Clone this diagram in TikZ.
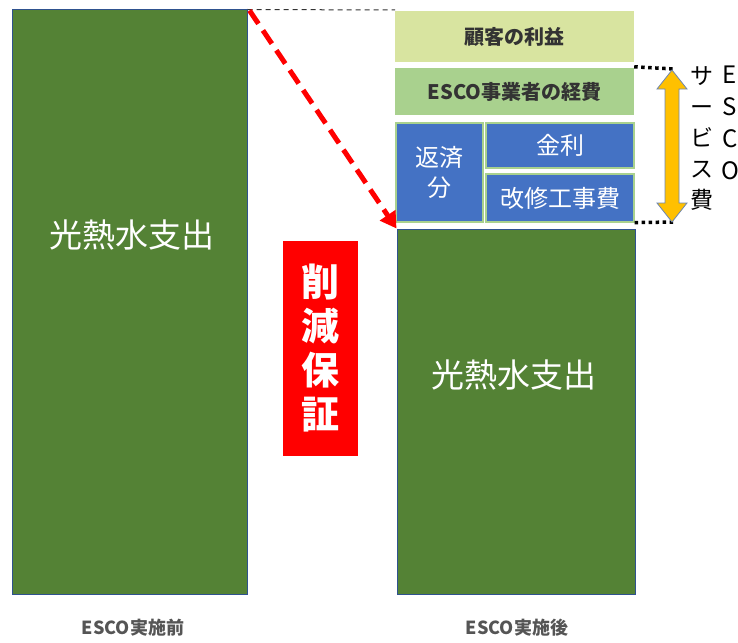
\documentclass[tikz,border=0pt]{standalone}
\usepackage{fontspec}
\setmainfont{Noto Sans CJK JP}
\usetikzlibrary{arrows.meta}
\definecolor{dgreen}{HTML}{548235}
\definecolor{bblue}{HTML}{4472C4}
\definecolor{lgreen}{HTML}{D8E4A0}
\definecolor{mgreen}{HTML}{A9D18E}
\definecolor{oline}{HTML}{2F528F}
\definecolor{gold}{HTML}{FFC000}
\definecolor{lbl}{HTML}{555555}
\tikzset{
  bigbar/.style={draw=oline, line width=1pt, fill=dgreen, inner sep=0pt},
  bluebox/.style={draw=mgreen, line width=1.2pt, fill=bblue, inner sep=0pt, text=white, font=\fontsize{24}{30}\selectfont, align=center},
  topbox/.style={fill=#1, inner sep=0pt, text=black!80, font=\bfseries\fontsize{20}{24}\selectfont},
  whitetxt/.style={text=white, font=\fontsize{33}{38}\selectfont},
  vtxt/.style={font=\fontsize{23}{31}\selectfont, align=center, inner sep=0pt},
  bottomlbl/.style={text=lbl, font=\bfseries\fontsize{18}{20}\selectfont}
}
\begin{document}
\begin{tikzpicture}[x=1pt,y=-1pt]
\useasboundingbox (0,0) rectangle (738,642);
% left bar
\node[bigbar, minimum width=235pt, minimum height=584pt] (before) at (129.5,302) {};
\node[whitetxt] (beforetxt) at (132,235) {光熱水支出};
% right bar
\node[bigbar, minimum width=238pt, minimum height=365pt] (after) at (516,411.5) {};
\node[whitetxt] (aftertxt) at (514,375) {光熱水支出};
% top boxes
\node[topbox=lgreen, minimum width=239pt, minimum height=51pt] (profit) at (514.5,36.5) {顧客の利益};
\node[topbox=mgreen, minimum width=239pt, minimum height=47pt] (cost) at (514.5,91.5) {ESCO事業者の経費};
% blue boxes
\node[bluebox, minimum width=87pt, minimum height=99pt] (repay) at (439.5,172.5) {返済\\分};
\node[bluebox, minimum width=148pt, minimum height=45pt] (interest) at (560,145.5) {金利};
\node[bluebox, minimum width=148pt, minimum height=48pt] (works) at (560,198) {改修工事費};
% red box
\node[fill=red, inner sep=0pt, minimum width=75pt, minimum height=215pt, text=white, font=\bfseries\fontsize{38}{44}\selectfont, align=center] (guar) at (320.5,348.5) {削\\減\\保\\証};
% dashed connector
\coordinate (dashend) at (395,10);
\draw[black!80, line width=1pt, dash pattern=on 5pt off 4pt] (before.north east) -- (dashend);
% red dashed arrow
\draw[red, line width=5pt, dash pattern=on 16pt off 8pt, -{Triangle[length=16pt,width=18pt]}] ([xshift=2pt,yshift=-1pt]before.north east) -- (after.north west);
% dotted lines
\coordinate (d1) at (674,69);
\coordinate (d2) at (674,222);
\draw[black, line width=3.5pt, dash pattern=on 3.5pt off 3.5pt] (cost.north east) ++(0,-1) -- (d1);
\draw[black, line width=3.5pt, dash pattern=on 3.5pt off 3.5pt] (works.south east) -- (d2);
% double arrow
\draw[draw=oline!70, line width=0.8pt, fill=gold]
  (672,70) -- (687,89) -- (679,89) -- (679,203) -- (687,203) -- (672,222)
  -- (657,203) -- (665,203) -- (665,89) -- (657,89) -- cycle;
% vertical texts
\node[vtxt, anchor=north] (svc) at (702,66) {サ\\ー\\ビ\\ス\\費};
\node[vtxt, anchor=north, font=\fontsize{24}{32}\selectfont] (esco) at (730,66) {E\\S\\C\\O};
% bottom labels
\node[bottomlbl] (lb1) at (133,628) {ESCO実施前};
\node[bottomlbl] (lb2) at (517,628) {ESCO実施後};
\end{tikzpicture}
\end{document}
